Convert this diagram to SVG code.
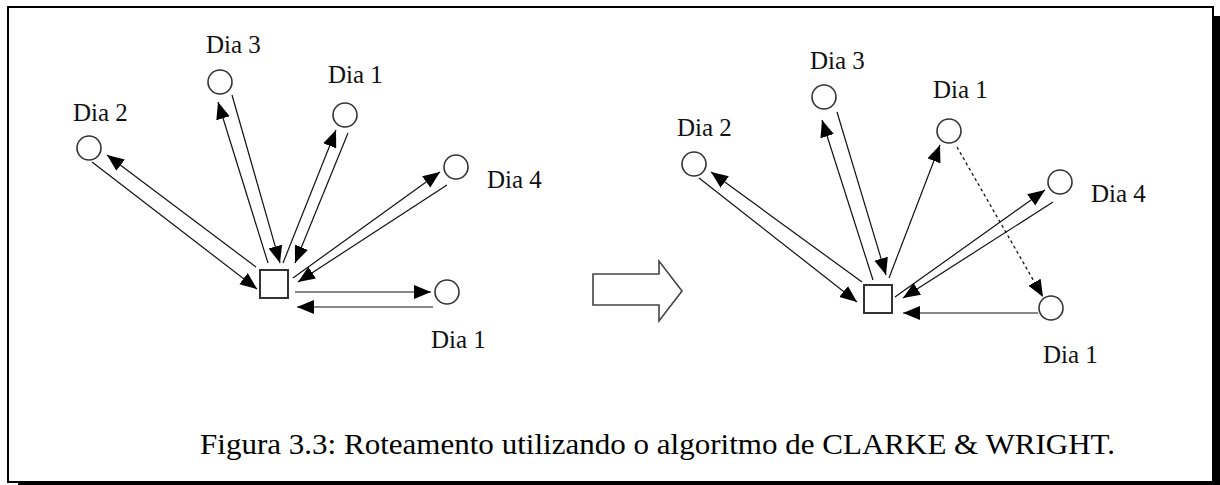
<svg xmlns="http://www.w3.org/2000/svg" width="1220" height="485" viewBox="0 0 1220 485">
<style>
.lbl{font-family:"Liberation Serif","Times New Roman",serif;font-size:25px;fill:#111}
.cap{font-family:"Liberation Serif","Times New Roman",serif;font-size:30px;fill:#000}
.nd{fill:#fff;stroke:#333;stroke-width:1.6}
.dep{fill:#fff;stroke:#333;stroke-width:2}
.e{stroke:#111;stroke-width:1.2;fill:none;marker-end:url(#ah)}
.d{stroke:#111;stroke-width:1.3;fill:none;stroke-dasharray:3,3;marker-end:url(#ah)}
</style>
<defs>
<marker id="ah" markerUnits="userSpaceOnUse" markerWidth="18" markerHeight="16" refX="17" refY="7" orient="auto">
<path d="M0,0 L17,7 L0,14 z" fill="#000"/>
</marker>
</defs>
<rect x="0" y="0" width="1220" height="485" fill="#fff"/>
<g id="frame">
<rect x="1213" y="16" width="7" height="469" fill="#000"/>
<rect x="18" y="482" width="1202" height="3" fill="#000"/>
<rect x="8" y="7" width="1205" height="475" fill="none" stroke="#000" stroke-width="2"/>
</g>
<g id="connectors">
<line class="e" x1="256" y1="267" x2="107" y2="155"/>
<line class="e" x1="92" y1="162" x2="257" y2="289"/>
<line class="e" x1="268" y1="263" x2="218" y2="102"/>
<line class="e" x1="232" y1="95" x2="280" y2="263"/>
<line class="e" x1="283" y1="263" x2="336" y2="130"/>
<line class="e" x1="348" y1="133" x2="295" y2="263"/>
<line class="e" x1="293" y1="278" x2="440" y2="172"/>
<line class="e" x1="447" y1="185" x2="298" y2="282"/>
<line class="e" x1="295" y1="292" x2="431" y2="292"/>
<line class="e" x1="433" y1="307" x2="297" y2="307"/>
<line class="e" x1="862" y1="282" x2="711" y2="172"/>
<line class="e" x1="699" y1="178" x2="857" y2="302"/>
<line class="e" x1="873" y1="280" x2="822" y2="120"/>
<line class="e" x1="837" y1="112" x2="886" y2="275"/>
<line class="e" x1="889" y1="278" x2="940" y2="145"/>
<line class="d" x1="957" y1="147" x2="1043" y2="297"/>
<line class="e" x1="895" y1="297" x2="1045" y2="190"/>
<line class="e" x1="1053" y1="202" x2="903" y2="298"/>
<line class="e" x1="1038" y1="313" x2="903" y2="313"/>
</g>
<g id="L-depot"><rect class="dep" x="260" y="270" width="28" height="28"/></g>
<g id="L-dia3"><circle class="nd" cx="220" cy="82" r="12"/><text class="lbl" x="206" y="53">Dia 3</text></g>
<g id="L-dia1a"><circle class="nd" cx="345" cy="115" r="12"/><text class="lbl" x="328" y="83">Dia 1</text></g>
<g id="L-dia2"><circle class="nd" cx="89" cy="148" r="12"/><text class="lbl" x="73" y="121">Dia 2</text></g>
<g id="L-dia4"><circle class="nd" cx="456" cy="167" r="12"/><text class="lbl" x="487" y="188">Dia 4</text></g>
<g id="L-dia1b"><circle class="nd" cx="447" cy="292" r="12"/><text class="lbl" x="431" y="348">Dia 1</text></g>
<g id="bigarrow"><path d="M593,274 L659,274 L659,261 L682,291 L659,321 L659,305 L593,305 Z" fill="#fff" stroke="#444" stroke-width="1.6"/></g>
<g id="R-depot"><rect class="dep" x="864" y="285" width="28" height="28"/></g>
<g id="R-dia3"><circle class="nd" cx="824" cy="97" r="12"/><text class="lbl" x="810" y="69">Dia 3</text></g>
<g id="R-dia1a"><circle class="nd" cx="949" cy="131" r="12"/><text class="lbl" x="933" y="98">Dia 1</text></g>
<g id="R-dia2"><circle class="nd" cx="694" cy="164" r="12"/><text class="lbl" x="677" y="136">Dia 2</text></g>
<g id="R-dia4"><circle class="nd" cx="1060" cy="182" r="12"/><text class="lbl" x="1091" y="202">Dia 4</text></g>
<g id="R-dia1b"><circle class="nd" cx="1051" cy="308" r="12"/><text class="lbl" x="1043" y="363">Dia 1</text></g>
<g id="caption"><text class="cap" x="200" y="454" textLength="915" lengthAdjust="spacingAndGlyphs">Figura 3.3: Roteamento utilizando o algoritmo de CLARKE &amp; WRIGHT.</text></g>
</svg>
